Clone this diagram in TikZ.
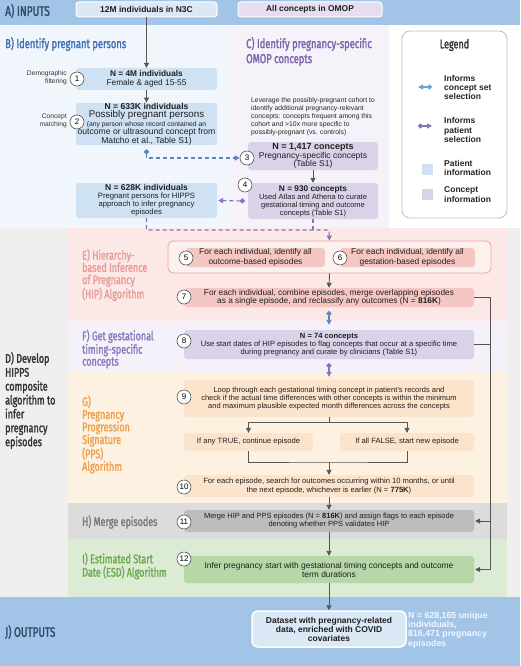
\documentclass[tikz,border=0pt]{standalone}
\usepackage{fontspec}
\setmainfont{Liberation Sans}
\newfontfamily\condf[FakeStretch=0.72,FakeBold=1.8]{Fira Sans}
\usetikzlibrary{arrows.meta}
\definecolor{bandA}{HTML}{A2C5E7}
\definecolor{bgB}{HTML}{F1F6FC}
\definecolor{bgC}{HTML}{F5F3F9}
\definecolor{bgD}{HTML}{EFEFEF}
\definecolor{bgE}{HTML}{FCE8E6}
\definecolor{bgF}{HTML}{F4F1FA}
\definecolor{bgG}{HTML}{FDF1E2}
\definecolor{bgH}{HTML}{DCDCDC}
\definecolor{bgI}{HTML}{DCEBD4}
\definecolor{patc}{HTML}{CFE2F3}
\definecolor{conc}{HTML}{D9D2E9}
\definecolor{topp}{HTML}{DBE8F5}
\definecolor{topc}{HTML}{E4DEF0}
\definecolor{ebox}{HTML}{F4C7C3}
\definecolor{egrp}{HTML}{FDF1F0}
\definecolor{egrpb}{HTML}{E8A4A2}
\definecolor{gbox}{HTML}{FCE4CC}
\definecolor{hbox}{HTML}{BDBDBD}
\definecolor{ibox}{HTML}{B6D7A8}
\definecolor{bluec}{HTML}{5B84C6}
\definecolor{bluel}{HTML}{6FA3DA}
\definecolor{purc}{HTML}{8673BC}
\definecolor{linec}{HTML}{555555}
\definecolor{tA}{HTML}{2E4C6C}
\definecolor{tB}{HTML}{3F6FB5}
\definecolor{tC}{HTML}{7C64AA}
\definecolor{tE}{HTML}{E89C9A}
\definecolor{tF}{HTML}{8A7BBD}
\definecolor{tG}{HTML}{EFA04C}
\definecolor{tH}{HTML}{7A7A7A}
\definecolor{tI}{HTML}{6CAA50}
\definecolor{tD}{HTML}{333333}
\newcommand{\fs}[2]{\fontsize{#1}{#2}\selectfont}
\begin{document}
\begin{tikzpicture}[x=1pt,y=-1pt,
  bx/.style={rounded corners=3pt, inner sep=0pt, align=center, font=\fs{7.6}{8.2}, text=black!88},
  pbox/.style={bx, fill=patc},
  cbox/.style={bx, fill=conc},
  num/.style={circle, draw=linec, fill=white, line width=0.6pt, minimum size=14pt, inner sep=0pt, font=\fs{8}{8}},
  ttl/.style={font=\condf\fs{13}{15}, inner sep=0pt, align=left},
  side/.style={font=\fs{6.7}{8}, align=right, inner sep=0pt, text=black!80},
  garr/.style={draw=linec, line width=0.9pt, -{Triangle[length=5pt,width=5pt]}},
  gline/.style={draw=linec, line width=0.9pt},
  bdash/.style={draw=bluec, line width=1.1pt, dash pattern=on 4pt off 3pt, {Circle[length=5pt]}-{Triangle[length=5pt,width=5pt]}},
  pdash/.style={draw=purc, line width=1.1pt, dash pattern=on 4pt off 3pt},
  bsol/.style={draw=bluec, line width=1.1pt, {Circle[length=5pt]}-{Triangle[length=5pt,width=5pt]}},
  psol/.style={draw=purc, line width=1.1pt, {Circle[length=5pt]}-{Triangle[length=5pt,width=5pt]}},
  legt/.style={font=\bfseries\fs{8.5}{9.4}, align=left, inner sep=0pt, anchor=west, text=black!85}
]
\useasboundingbox (0,0) rectangle (520,666);
% backgrounds
\fill[bandA] (0,0) rectangle (520,25);
\fill[bgB] (0,25) rectangle (232,228);
\fill[bgC] (232,25) rectangle (389,228);
\fill[white] (389,25) rectangle (520,228);
\fill[bgD] (0,228) rectangle (520,597);
\fill[bgE] (68,228) rectangle (507,321);
\fill[bgF] (68,321) rectangle (507,371);
\fill[bgG] (68,371) rectangle (507,503);
\fill[bgH] (68,503) rectangle (507,539);
\fill[bgI] (68,539) rectangle (507,597);
\fill[bandA] (0,597) rectangle (520,666);

% titles
\node[ttl, text=tA, anchor=west, font=\condf\fs{14}{14}] (tA) at (5,11) {A) INPUTS};
\node[ttl, text=tB, anchor=west] (tB) at (5,44) {B) Identify pregnant persons};
\node[ttl, text=tC, anchor=west] (tC) at (246,51.5) {C) Identify pregnancy-specific\\OMOP concepts};
\node[ttl, text=tD, anchor=west, font=\condf\fs{12.5}{13.9}] (tD) at (5,400.5) {D) Develop\\HIPPS\\composite\\algorithm to\\infer\\pregnancy\\episodes};
\node[ttl, text=tE, anchor=west, font=\condf\fs{12.5}{12.3}] (tE) at (82,275) {E) Hierarchy-\\based Inference\\of Pregnancy\\(HIP) Algorithm};
\node[ttl, text=tF, anchor=west, font=\condf\fs{12.5}{12}] (tF) at (82,349) {F) Get gestational\\timing-specific\\concepts};
\node[ttl, text=tG, anchor=west, font=\condf\fs{12.5}{12.6}] (tG) at (82,434.5) {G)\\Pregnancy\\Progression\\Signature\\(PPS)\\Algorithm};
\node[ttl, text=tH, anchor=west, font=\condf\fs{12.5}{12}] (tH) at (82,522) {H) Merge episodes};
\node[ttl, text=tI, anchor=west, font=\condf\fs{12.5}{12}] (tI) at (82,566) {I) Estimated Start\\Date (ESD) Algorithm};
\node[ttl, text=tA, anchor=west, font=\condf\fs{13.8}{14}] (tJ) at (5,632) {J) OUTPUTS};

% top inputs
\node[bx, fill=topp, draw=white, line width=1pt, minimum width=141pt, minimum height=15pt, font=\bfseries\fs{8.5}{9}] (top1) at (146.5,9.5) {12M individuals in N3C};
\node[bx, fill=topc, draw=white, line width=1pt, minimum width=144pt, minimum height=15pt, font=\bfseries\fs{8.4}{9}] (top2) at (310,9.5) {All concepts in OMOP};

% B boxes
\node[pbox, minimum width=141pt, minimum height=22pt, font=\fs{8.3}{9}] (b1) at (146.5,79) {\textbf{N = 4M individuals}\\Female \& aged 15-55};
\node[pbox, minimum width=141pt, minimum height=40pt, font=\fs{8.6}{8.6}] (b2) at (146.5,124) {\textbf{N = 633K individuals}\\\fs{9.8}{9}Possibly pregnant persons\\\fs{6.8}{7.2}(any person whose record contained an\\outcome or ultrasound concept from\\Matcho et al., Table S1)};
\node[pbox, minimum width=141pt, minimum height=35pt, font=\fs{7.7}{8}] (b3) at (146.5,200.5) {\textbf{\fs{8.5}{8}N = 628K individuals}\\Pregnant persons for HIPPS\\approach to infer pregnancy\\episodes};
\node[num] (n1) at (77,79) {1};
\node[num] (n2) at (77,122) {2};
\node[side, anchor=east] (s1) at (67,78) {Demographic\\filtering};
\node[side, anchor=east] (s2) at (67,121) {Concept\\matching};

% C boxes
\node[font=\fs{6.8}{8}, align=left, inner sep=0pt, anchor=west, text=black!85] (ctext) at (251,116.5) {Leverage the possibly-pregnant cohort to\\identify additional pregnancy-relevant\\concepts: concepts frequent among this\\cohort and >10x more specific to\\possibly-pregnant (vs. controls)};
\node[cbox, minimum width=130pt, minimum height=28pt, font=\fs{8.5}{8.4}] (c3) at (313,156) {\textbf{\fs{9}{8.4}N = 1,417 concepts}\\Pregnancy-specific concepts\\(Table S1)};
\node[cbox, minimum width=130pt, minimum height=36pt, font=\fs{7.5}{8}] (c4) at (313,201) {\textbf{\fs{8.3}{8}N = 930 concepts}\\Used Atlas and Athena to curate\\gestational timing and outcome\\concepts (Table S1)};
\node[num] (n3) at (247,158) {3};
\node[num] (n4) at (245,185) {4};

% legend
\node[draw=black!25, fill=white, rounded corners=8pt, line width=0.8pt, minimum width=105pt, minimum height=187pt, inner sep=0pt] (leg) at (454.5,124.5) {};
\node[font=\condf\fs{12.5}{14}, text=tD, inner sep=0pt] (legtitle) at (454.5,45) {Legend};
\coordinate (lb1) at (418,87); \coordinate (lb2) at (432,87);
\draw[draw=bluel, line width=1.1pt, {Triangle[length=5pt,width=5pt]}-{Circle[length=5pt]}] (lb1) -- (lb2);
\node[legt] (lt1) at (444,87.5) {Informs\\concept set\\selection};
\coordinate (lp1) at (418,126); \coordinate (lp2) at (432,126);
\draw[psol] (lp1) -- (lp2);
\node[legt] (lt2) at (444,130) {Informs\\patient\\selection};
\node[fill=patc, minimum size=11pt, inner sep=0pt] (sq1) at (427.5,169.5) {};
\node[legt] (lt3) at (444,168) {Patient\\information};
\node[fill=conc, minimum size=11pt, inner sep=0pt] (sq2) at (427.5,194.5) {};
\node[legt] (lt4) at (444,194.5) {Concept\\information};

% E
\node[draw=egrpb, fill=egrp, line width=0.8pt, rounded corners=5pt, minimum width=323pt, minimum height=32pt, inner sep=0pt] (g56) at (329.5,257) {};
\node[bx, fill=ebox, minimum width=139pt, minimum height=19pt, font=\fs{8.4}{9.5}] (e5) at (255.5,257.5) {For each individual, identify all\\outcome-based episodes};
\node[bx, fill=ebox, minimum width=135pt, minimum height=19pt, font=\fs{8.4}{9.5}] (e6) at (407.5,257.5) {For each individual, identify all\\gestation-based episodes};
\node[num] (n5) at (186,258) {5};
\node[num] (n6) at (340,258) {6};
\node[bx, fill=ebox, minimum width=290pt, minimum height=19pt, font=\fs{8.3}{8.2}] (e7) at (329,297.5) {For each individual, combine episodes, merge overlapping episodes\\as a single episode, and reclassify any outcomes (N = \textbf{816K})};
\node[num] (n7) at (184,297) {7};

% F
\node[cbox, minimum width=290pt, minimum height=29pt, font=\fs{7.6}{8}] (f8) at (329,344.5) {\textbf{N = 74 concepts}\\Use start dates of HIP episodes to flag concepts that occur at a specific time\\during pregnancy and curate by clinicians (Table S1)};
\node[num] (n8) at (184,341) {8};

% G
\node[bx, fill=gbox, minimum width=290pt, minimum height=37pt, font=\fs{7.5}{8}] (g9) at (329,398.5) {Loop through each gestational timing concept in patient's records and\\check if the actual time differences with other concepts is within the minimum\\and maximum plausible expected month differences across the concepts};
\node[num] (n9) at (184,397) {9};
\node[bx, fill=gbox, minimum width=129pt, minimum height=18pt, font=\fs{7.6}{8}] (gT) at (248.5,442) {If any TRUE, continue episode};
\node[bx, fill=gbox, minimum width=134pt, minimum height=18pt, font=\fs{7.6}{8}] (gF) at (407,442) {If all FALSE, start new episode};
\node[bx, fill=gbox, minimum width=290pt, minimum height=22pt, font=\fs{7.6}{8.6}] (g10) at (329,486) {For each episode, search for outcomes occurring within 10 months, or until\\the next episode, whichever is earlier (N = \textbf{775K})};
\node[num] (n10) at (184,487) {10};

% H, I
\node[bx, fill=hbox, minimum width=290pt, minimum height=22pt, font=\fs{7.5}{8}] (h11) at (329,521) {Merge HIP and PPS episodes (N = \textbf{816K}) and assign flags to each episode\\denoting whether PPS validates HIP};
\node[num] (n11) at (184,522) {11};
\node[bx, fill=ibox, minimum width=290pt, minimum height=27pt, font=\fs{8.4}{9}] (i12) at (329,569.5) {Infer pregnancy start with gestational timing concepts and outcome\\term durations};
\node[num] (n12) at (184,559) {12};

% output
\node[bx, fill=topp, draw=white, line width=1.5pt, rounded corners=6pt, minimum width=154pt, minimum height=36pt, font=\bfseries\fs{8.5}{9}] (out) at (329,629) {Dataset with pregnancy-related\\data, enriched with COVID\\covariates};
\node[font=\bfseries\fs{8.8}{9.4}, text=white!96!blue, align=left, inner sep=0pt, anchor=west] (outn) at (408,630) {N = 628,165 unique\\individuals,\\816,471 pregnancy\\episodes};

% connectors B/C
\draw[garr] (top1.south) -- (b1.north);
\draw[garr] (b1.south) -- (b2.north);
\draw[garr] (c3.south) -- (c4.north);
\draw[bdash] ([yshift=-4pt]b2.south) |- (n3.west);
\draw[pdash, {Circle[length=5pt]}-{Triangle[length=5pt,width=5pt]}] ([xshift=-3pt]c4.west) -- ([xshift=1pt]b3.east);
\coordinate (pj1) at (146.5,230);
\coordinate (pj2) at (313,230);
\coordinate (pj3) at (329,230);
\draw[pdash, -{Triangle[length=5pt,width=5pt]}] (b3.south) -- (pj1) -- (pj3) -- (g56.north);
\draw[pdash] (c4.south) -- (pj2);

% connectors E-I
\draw[garr] (g56.south) -- (e7.north);
\draw[bsol] ([yshift=-4pt]e7.south) -- ([yshift=5pt]f8.north);
\draw[psol] ([yshift=-4pt]f8.south) -- ([yshift=3pt]g9.north);
\coordinate (gs) at (329,422);
\coordinate (gsl) at (248.5,422);
\coordinate (gsr) at (407,422);
\draw[gline] (g9.south) -- (gs);
\draw[gline] (gsl) -- (gsr);
\draw[garr] (gsl) -- (gT.north);
\draw[garr] (gsr) -- (gF.north);
\coordinate (gm) at (329,462);
\draw[gline] (gT.south) |- (gm) -| (gF.south);
\draw[garr] (gm) -- (g10.north);
\draw[garr] (g10.south) -- (h11.north);
\draw[garr] (h11.south) -- (i12.north);
\draw[garr] (i12.south) -- (out.north);
\coordinate (r7) at (490,297.5);
\coordinate (r8) at (490,344.5);
\coordinate (r11) at (490,521);
\coordinate (r12) at (490,569.5);
\draw[gline] (e7.east) -- (r7) -- (r12);
\draw[gline] (f8.east) -- (r8);
\draw[garr] (r11) -- ([xshift=1pt]h11.east);
\draw[garr] (r12) -- ([xshift=1pt]i12.east);
\end{tikzpicture}
\end{document}
